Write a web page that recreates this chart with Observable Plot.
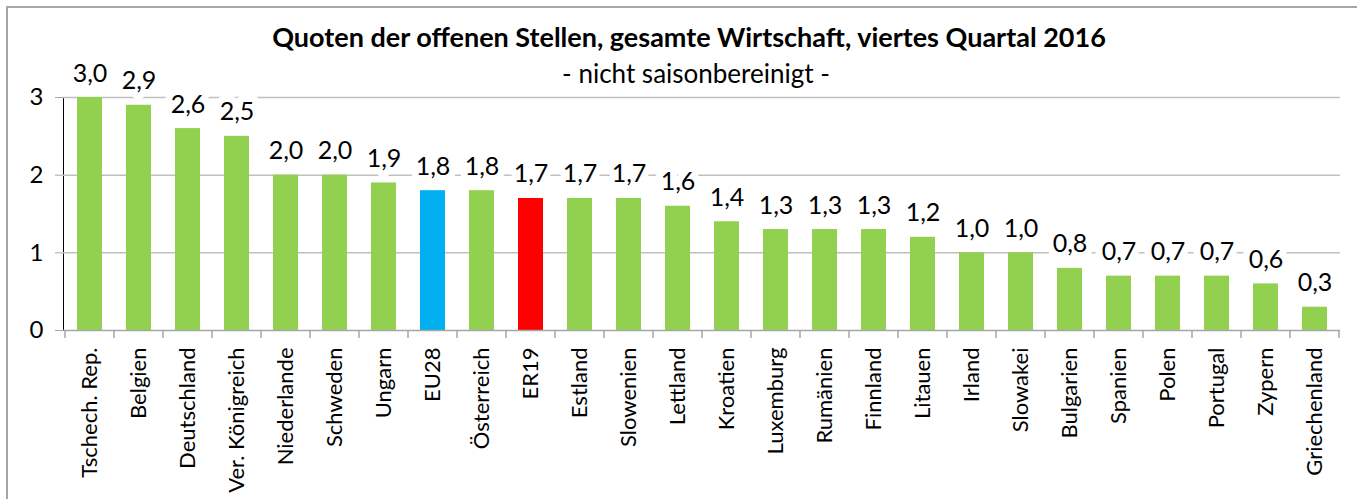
<!DOCTYPE html>
<html>
<head>
<meta charset="utf-8">
<script src="https://cdn.jsdelivr.net/npm/d3@7"></script>
<script src="https://cdn.jsdelivr.net/npm/@observablehq/plot@0.6"></script>
<style>
  body { margin: 0; background: #fff; font-family: Lato, "Open Sans", sans-serif; }
  #wrap { position: relative; width: 1357px; height: 499px; overflow: hidden; background: #fff; }
  #chart { position: absolute; left: 0; top: 0; }
  #frame { position: absolute; left: 6px; top: 6px; width: 1400px; height: 600px; border: 2px solid #a6a6a6; pointer-events: none; }
  #title { position: absolute; left: 0; width: 1378px; top: 21px; text-align: center; font-weight: bold; font-size: 27px; line-height: 32px; color: #000; white-space: nowrap; }
  #subtitle { position: absolute; left: 0; width: 1392px; top: 58px; text-align: center; font-size: 26px; line-height: 30px; color: #000; white-space: nowrap; }
</style>
</head>
<body>
<div id="wrap">
  <div id="chart"></div>
  <div id="title">Quoten der offenen Stellen, gesamte Wirtschaft, viertes Quartal 2016</div>
  <div id="subtitle">- nicht saisonbereinigt -</div>
  <div id="frame"></div>
</div>
<script>
const countries = ["Tschech. Rep.", "Belgien", "Deutschland", "Ver. Königreich", "Niederlande", "Schweden", "Ungarn", "EU28", "Österreich", "ER19", "Estland", "Slowenien", "Lettland", "Kroatien", "Luxemburg", "Rumänien", "Finnland", "Litauen", "Irland", "Slowakei", "Bulgarien", "Spanien", "Polen", "Portugal", "Zypern", "Griechenland"];
const values = [3.0, 2.9, 2.6, 2.5, 2.0, 2.0, 1.9, 1.8, 1.8, 1.7, 1.7, 1.7, 1.6, 1.4, 1.3, 1.3, 1.3, 1.2, 1.0, 1.0, 0.8, 0.7, 0.7, 0.7, 0.6, 0.3];
const groups = ["Land", "EU28", "ER19"];
const groupColors = ["#92d050", "#00b0f0", "#ff0000"];
const yTicks = [0, 1, 2, 3];
const gridValues = [1, 2, 3];

const data = countries.map((c, i) => ({
  country: c,
  value: values[i],
  group: groups.includes(c) ? c : "Land"
}));
const fmt = v => d3.format(".1f")(v).replace(".", ",");

const chart = Plot.plot({
  width: 1357,
  height: 499,
  marginLeft: 63,
  marginRight: 17,
  marginTop: 97,
  marginBottom: 169,
  style: { fontFamily: "Lato, sans-serif", fontSize: "22px", background: "transparent", color: "#000" },
  x: { domain: countries, paddingInner: 0.5, paddingOuter: 0.25, tickRotate: -90, tickSize: 0, tickPadding: 17, label: null },
  y: { domain: [0, 3], ticks: yTicks, tickFormat: d => String(d), tickSize: 8, tickPadding: 12, label: null, line: true },
  color: { domain: groups, range: groupColors },
  marks: [
    Plot.ruleY(gridValues, { stroke: "#bfbfbf", strokeWidth: 1.5 }),
    Plot.barY(data, { x: "country", y: "value", fill: "group" }),
    Plot.text(data, { x: "country", y: "value", text: d => fmt(d.value), dy: -24, fontSize: 25, fill: "#000", stroke: "white", strokeWidth: 14, strokeLinejoin: "round" }),
    Plot.ruleY([0], { stroke: "#a6a6a6", strokeWidth: 1.5 })
  ]
});
document.getElementById("chart").appendChild(chart);

// style axes
chart.querySelectorAll('g[aria-label^="x-axis"]').forEach(g => {
  g.setAttribute("font-size", "22");
  g.querySelectorAll("text").forEach(t => { t.style.fontSize = "22px"; t.style.fontVariant = "normal"; });
});
chart.querySelectorAll('g[aria-label^="y-axis"]').forEach(g => {
  g.setAttribute("font-size", "24");
  g.querySelectorAll("text").forEach(t => { t.style.fontSize = "24px"; t.style.fontVariant = "normal"; });
  g.querySelectorAll("path, line").forEach(p => p.setAttribute("stroke", "#a6a6a6"));
});

// category boundary tick marks on the x axis, from the Plot scales
const sx = chart.scale("x");
const sy = chart.scale("y");
const step = sx.step || sx.bandwidth * 2;
const y0 = sy.apply(0);
const bounds = countries.map(c => sx.apply(c) + sx.bandwidth / 2 - step / 2);
bounds.push(sx.apply(countries[countries.length - 1]) + sx.bandwidth / 2 + step / 2);
d3.select(chart).append("g")
  .attr("stroke", "#a6a6a6")
  .attr("stroke-width", 1.5)
  .selectAll("line")
  .data(bounds)
  .join("line")
  .attr("x1", d => d).attr("x2", d => d)
  .attr("y1", y0).attr("y2", y0 + 8);
</script>
</body>
</html>
